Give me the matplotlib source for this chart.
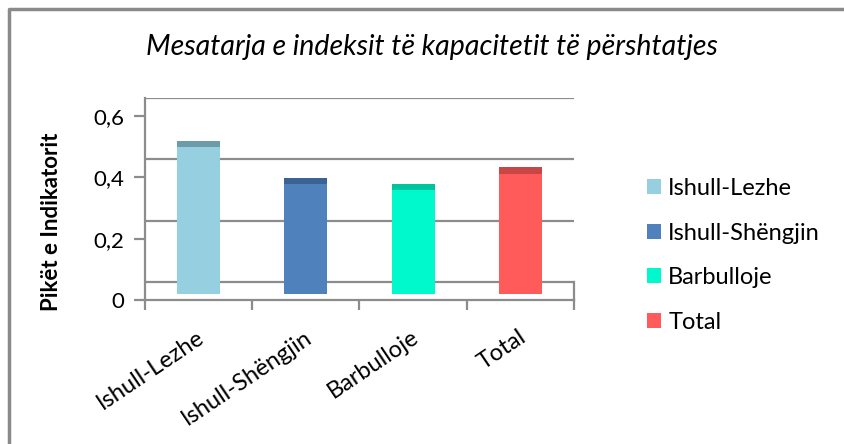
import matplotlib.pyplot as plt
from matplotlib.patches import Patch
from matplotlib.lines import Line2D
import matplotlib.transforms as mtransforms
import numpy as np

plt.rcParams['font.family'] = ['Lato', 'DejaVu Sans']

categories = ['Ishull-Lezhe', 'Ishull-Shëngjin', 'Barbulloje', 'Total']
values = [0.48, 0.36, 0.34, 0.393]
colors = ['#96cfe0', '#4f81bd', '#00f9cc', '#ff5b5b']
top_colors = ['#6b9ca8', '#3b6294', '#00c49d', '#c94646']
yticks = [0, 0.2, 0.4, 0.6]
ytick_labels = ['0', '0,2', '0,4', '0,6']
title = 'Mesatarja e indeksit të kapacitetit të përshtatjes'
ylabel = 'Pikët e Indikatorit'

depth = 0.059        # back wall is drawn this much above the front axis
front = depth / 3    # bars stand a third of the way into the floor
grid_c = '#8c8c8c'
fs = 17

fig = plt.figure(figsize=(8.45, 4.44), dpi=100)
ax = fig.add_axes([145 / 845, 144 / 444, 429 / 845, 202 / 444])
x = np.arange(len(categories))
ax.set_xlim(-0.5, len(categories) - 0.5)
ax.set_ylim(0, 0.6 + depth)

# back wall
for t in yticks:
    ax.axhline(t + depth, color=grid_c, lw=1.6, zorder=1)
ax.plot([len(categories) - 0.5] * 2, [0, depth], color=grid_c, lw=1.6, clip_on=False)

# columns: front face plus darker top face
vals = np.array(values)
ax.bar(x, vals, width=0.4, bottom=front, color=colors, zorder=3)
ax.bar(x, front, width=0.4, bottom=vals + front, color=top_colors, zorder=3)

for s in ['top', 'right']:
    ax.spines[s].set_visible(False)
for s in ['left', 'bottom']:
    ax.spines[s].set_color(grid_c)
    ax.spines[s].set_linewidth(1.6)

ax.set_yticks(yticks, ytick_labels)
ax.tick_params(axis='y', length=8, width=1.6, color=grid_c, pad=7, labelsize=16)

ax.set_xticks(np.arange(len(categories) + 1) - 0.5, minor=False)
ax.set_xticklabels([])
ax.tick_params(axis='x', which='major', length=7, width=1.6, color=grid_c)
ax.set_xticks(x, minor=True)
ax.set_xticklabels(categories, minor=True, rotation=34, ha='right',
                   rotation_mode='anchor', fontsize=fs)
ax.tick_params(axis='x', which='minor', length=0, pad=19)
shift = mtransforms.ScaledTranslation(-2 / 100, 0, fig.dpi_scale_trans)
for lab in ax.get_xticklabels(minor=True):
    lab.set_transform(lab.get_transform() + shift)

fig.text(432 / 845, 1 - 47 / 444, title, style='italic', fontsize=20.5,
         ha='center', va='center')
fig.text(52 / 845, 1 - 222 / 444, ylabel, rotation=90, fontweight='bold',
         fontsize=16, ha='center', va='center')

handles = [Patch(facecolor=c, edgecolor='none') for c in colors]
fig.legend(handles, categories, loc='upper left',
           bbox_to_anchor=(647 / 845, 1 - 178 / 444), frameon=False,
           fontsize=fs, handlelength=0.6, handleheight=0.6,
           handletextpad=0.3, labelspacing=1.0, borderpad=0, borderaxespad=0)

# chart border (top and left edges visible in the crop)
fig.add_artist(Line2D([9 / 845, 9 / 845, 1], [0, 1 - 9.5 / 444, 1 - 9.5 / 444],
                      transform=fig.transFigure, color='#8a8a8a', lw=2.5))

fig.savefig('out.png', dpi=100)
